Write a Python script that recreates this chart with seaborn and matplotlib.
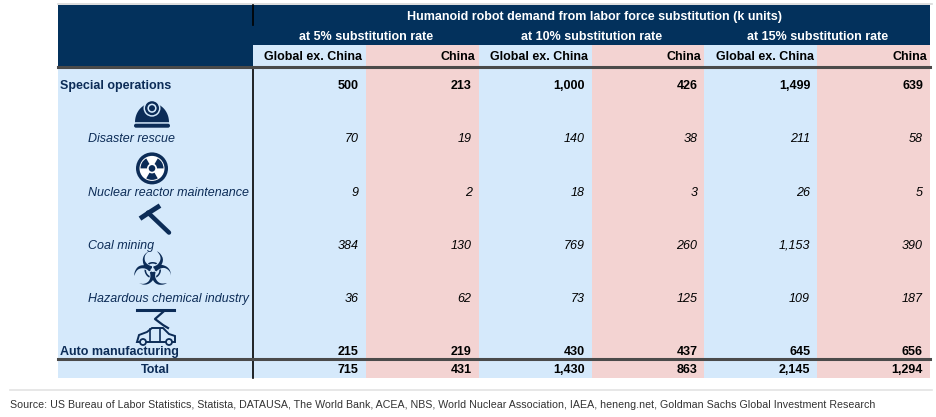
import numpy as np
import matplotlib
matplotlib.use("Agg")
import matplotlib.pyplot as plt
from matplotlib.colors import ListedColormap
from matplotlib.patches import Rectangle, Circle, Wedge, FancyBboxPatch, Polygon
import seaborn as sns

# ---- data ----
title = "Humanoid robot demand from labor force substitution (k units)"
rates = ["at 5% substitution rate", "at 10% substitution rate", "at 15% substitution rate"]
regions = ["Global ex. China", "China"]
categories = ["Special operations", "Disaster rescue", "Nuclear reactor maintenance",
              "Coal mining", "Hazardous chemical industry", "Auto manufacturing", "Total"]
global_5 = [500, 70, 9, 384, 36, 215, 715]
china_5 = [213, 19, 2, 130, 62, 219, 431]
global_10 = [1000, 140, 18, 769, 73, 430, 1430]
china_10 = [426, 38, 3, 260, 125, 437, 863]
global_15 = [1499, 211, 26, 1153, 109, 645, 2145]
china_15 = [639, 58, 5, 390, 187, 656, 1294]
source = ("Source: US Bureau of Labor Statistics, Statista, DATAUSA, The World Bank, ACEA, NBS, "
          "World Nuclear Association, IAEA, heneng.net, Goldman Sachs Global Investment Research")

columns = [global_5, china_5, global_10, china_10, global_15, china_15]
sub_rows = [1, 2, 3, 4]          # italic sub-categories
bold_rows = [0, 5, 6]

NAVY = "#03315c"
TXT = "#0c2c57"
BLUE = "#d5e9fb"
PINK = "#f3d3d2"

plt.rcParams["font.family"] = ["Liberation Sans", "DejaVu Sans"]
FS = 9.0
DY = 4.2   # baseline offset from visual centre


def label(x, y, s, **kw):
    kw.setdefault("fontsize", FS)
    ax.text(x, y + DY, s, va="baseline", **kw)


W, H = 936, 417
fig = plt.figure(figsize=(W / 100, H / 100), dpi=100)

# layout (pixels)
x0, xl, xr = 58, 253, 930
col_w = (xr - xl) / 6
y_top, y_sub, y_col, y_body, y_tot, y_bot = 5, 25, 45, 67, 359, 378

# column background bands via seaborn heatmap
hax = fig.add_axes([xl / W, 1 - y_bot / H, (xr - xl) / W, (y_bot - y_col) / H])
codes = np.array([[i % 2 for i in range(len(columns))]])
sns.heatmap(codes, cmap=ListedColormap([BLUE, PINK]), cbar=False, ax=hax,
            xticklabels=False, yticklabels=False, vmin=0, vmax=1)
hax.set_axis_off()

ax = fig.add_axes([0, 0, 1, 1])
ax.set_xlim(0, W)
ax.set_ylim(H, 0)
ax.patch.set_alpha(0)
ax.set_axis_off()

# header
ax.add_patch(Rectangle((x0, y_top), xr - x0, y_col - y_top, color=NAVY, lw=0))
ax.add_patch(Rectangle((x0, y_col), xl - x0, y_body - y_col, color=NAVY, lw=0))
ax.add_patch(Rectangle((x0, y_body), xl - x0, y_bot - y_body, color=BLUE, lw=0))
ax.plot([x0, xr + 2], [y_top - 1, y_top - 1], color="#d8d8d8", lw=1.2)
ax.plot([xl, xl], [y_top, y_sub], color="black", lw=1.2)
ax.plot([xl, xl], [y_body, y_bot], color="black", lw=1.2)
ax.plot([x0, xr], [y_body - 0.5, y_body - 0.5], color="#4a4a4a", lw=2.2)
ax.plot([x0, xr], [y_tot, y_tot], color="#4a4a4a", lw=2.2)
ax.plot([10, xr + 2], [390, 390], color="#e3e3e3", lw=1.2)

label((xl + xr) / 2 + 3, 15.5, title, color="white", fontweight="bold", ha="center")
for k, r in enumerate(rates):
    cx = xl + col_w * (2 * k + 1)
    label(cx, 35.5, r, color="white", fontweight="bold", ha="center")
for j in range(len(columns)):
    if j % 2 == 0:
        label(xl + col_w * j + col_w / 2 + 4, 56, regions[0], fontweight="bold", ha="center")
    else:
        label(xl + col_w * (j + 1) - 3, 56, regions[1], fontweight="bold", ha="right")

# rows
row_y = [85 + 53.2 * i for i in range(6)] + [369]
for i, cat in enumerate(categories):
    y = row_y[i]
    if i in sub_rows:
        label(88, y, cat, color=TXT, fontstyle="italic", ha="left")
    elif i == 6:
        label((x0 + xl) / 2, y, cat, color=TXT, fontweight="bold", ha="center")
    else:
        label(x0 + 2, y, cat, color=TXT, fontweight="bold", ha="left")
    for j, col in enumerate(columns):
        label(xl + col_w * (j + 1) - 7, y, f"{col[i]:,}",
              fontweight="bold" if i in bold_rows else "normal",
              fontstyle="italic" if i in sub_rows else "normal",
              ha="right", color="black")

# icons
cx = 152
# helmet
iy = row_y[1] - 16
t = np.linspace(np.pi, 2 * np.pi, 40)
ax.add_patch(Polygon(np.c_[cx + 17 * np.cos(t), iy + 19 * np.sin(t)], closed=True,
                     color=TXT, lw=0))
ax.add_patch(FancyBboxPatch((cx - 18, iy + 1.5), 36, 4, boxstyle="round,pad=0,rounding_size=2",
                            color=TXT, lw=0))
ax.add_patch(Circle((cx, iy - 14), 8.5, color=BLUE, lw=0))
ax.add_patch(Circle((cx, iy - 14), 7, color=TXT, lw=0))
ax.add_patch(Circle((cx, iy - 14), 4.6, color=BLUE, lw=0))
ax.add_patch(Circle((cx, iy - 14), 3, color=TXT, lw=0))
# radiation
iy = row_y[2] - 23
ax.add_patch(Circle((cx, iy), 16, color=TXT, lw=0))
ax.add_patch(Circle((cx, iy), 12.5, color="white", lw=0))
for a in (210, 330, 90):
    ax.add_patch(Wedge((cx, iy), 11.5, a - 30, a + 30, color=TXT, lw=0))
ax.add_patch(Circle((cx, iy), 5, color="white", lw=0))
ax.add_patch(Circle((cx, iy), 3.3, color=TXT, lw=0))
# pickaxe
iy = row_y[3]
ax.plot([140, 149, 160], [iy - 26, iy - 32, iy - 39], color=TXT, lw=3.5, solid_capstyle="butt")
ax.plot([148, 169], [iy - 32, iy - 12], color=TXT, lw=3.2, solid_capstyle="round")
# biohazard
ax.text(cx, row_y[4] - 25, "\u2623", color=TXT, fontsize=33, ha="center", va="center",
        family="DejaVu Sans", fontweight="bold")
# robot arm + car
iy = row_y[5]
ax.plot([137, 174], [iy - 41, iy - 41], color=TXT, lw=2.2)
ax.plot([163, 155, 163, 168], [iy - 39, iy - 32, iy - 26, iy - 23], color=TXT, lw=1.6)
car = Polygon([[137, iy - 9], [139, iy - 16], [147, iy - 19], [152, iy - 23], [163, iy - 23],
               [169, iy - 17], [175, iy - 15], [175, iy - 9]], closed=True,
              fill=False, edgecolor=TXT, lw=1.4)
ax.add_patch(car)
ax.plot([150, 150], [iy - 22, iy - 10], color=TXT, lw=1.2)
ax.plot([160, 160], [iy - 22, iy - 10], color=TXT, lw=1.2)
for wx in (143, 169):
    ax.add_patch(Circle((wx, iy - 9), 3, facecolor=BLUE, edgecolor=TXT, lw=1.3))

ax.text(10, 408, source, fontsize=7.7, color="#333333", ha="left", va="baseline",
        family=["Liberation Sans", "DejaVu Sans"])

fig.savefig("out.png", dpi=100, facecolor="white")
